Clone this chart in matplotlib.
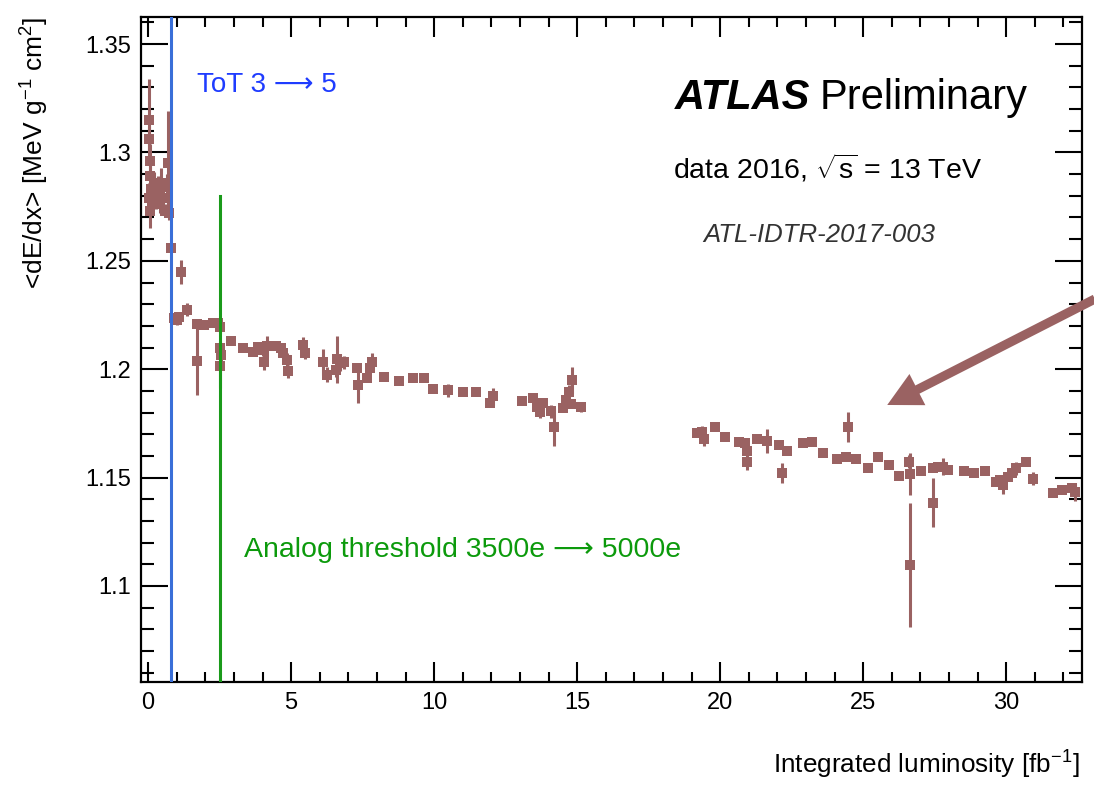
import matplotlib
matplotlib.use("Agg")
import matplotlib.pyplot as plt
from matplotlib.ticker import MultipleLocator
from matplotlib.patches import FancyArrowPatch, ArrowStyle

plt.rcParams['font.family'] = ['Liberation Sans', 'DejaVu Sans']
plt.rcParams['mathtext.fontset'] = 'custom'
plt.rcParams['mathtext.rm'] = 'Liberation Sans'
plt.rcParams['mathtext.it'] = 'Liberation Sans:italic'

# Integrated luminosity [fb^-1]
lumi = [0.02, 0.04, 0.05, 0.08, 0.10, 0.03, 0.12, 0.06, 0.15, 0.20, 0.27, 0.33, 0.40, 0.46,
        0.52, 0.58, 0.66, 0.70, 0.72,
        0.79, 0.92, 1.00, 1.08, 1.15, 1.36, 1.70, 1.72, 1.97, 2.26, 2.45, 2.50, 2.52, 2.53, 2.52,
        2.88, 3.32, 3.67, 3.85, 4.00, 4.05, 4.15, 4.48, 4.65, 4.72, 4.85, 4.90, 5.40, 5.48,
        6.10, 6.25, 6.62, 6.58, 6.72, 6.85, 7.30, 7.35, 7.65, 7.76, 7.83, 8.25, 8.78, 9.25,
        9.65, 9.97, 10.49, 11.00, 11.47, 11.96, 12.04, 13.08, 13.46, 13.60, 13.70, 13.80,
        14.10, 14.18, 14.50, 14.62, 14.72, 14.83, 14.78, 15.14,
        19.20, 19.37, 19.44, 19.83, 20.17, 20.66, 20.87, 20.94, 20.92, 21.29, 21.64, 22.06,
        22.17, 22.34, 22.90, 23.20, 23.60, 24.10, 24.40, 24.48, 24.76, 25.17, 25.52, 25.90,
        26.26, 26.60, 26.62, 26.62, 27.03, 27.45, 27.45, 27.60, 27.80, 27.97, 28.53, 28.88,
        29.27, 29.65, 29.80, 29.90, 30.07, 30.20, 30.35, 30.70, 30.94, 31.64, 31.96, 32.30,
        32.40]

# Mean dE/dx [MeV g^-1 cm^2]
dedx = [1.315, 1.306, 1.296, 1.289, 1.283, 1.279, 1.277, 1.273, 1.281, 1.285, 1.278, 1.283,
        1.276, 1.286, 1.279, 1.273, 1.284, 1.295, 1.272,
        1.256, 1.2235, 1.2225, 1.224, 1.245, 1.2275, 1.221, 1.204, 1.2205, 1.2215, 1.2215,
        1.2195, 1.210, 1.2066, 1.2015,
        1.213, 1.210, 1.208, 1.2102, 1.209, 1.2035, 1.2105, 1.2107, 1.210, 1.2075, 1.2043,
        1.199, 1.211, 1.2075, 1.2035, 1.1975, 1.2045, 1.1995, 1.203, 1.2033, 1.2006, 1.1927,
        1.196, 1.2006, 1.2035, 1.1964, 1.1946, 1.196, 1.196, 1.1909, 1.1904, 1.1895, 1.1895,
        1.1844, 1.1875, 1.1853, 1.1867, 1.1826, 1.1803, 1.1844, 1.1805, 1.1733, 1.1821,
        1.1858, 1.1895, 1.195, 1.184, 1.1826,
        1.1706, 1.171, 1.1678, 1.1733, 1.1687, 1.1664, 1.166, 1.1572, 1.1625, 1.1678, 1.1669,
        1.165, 1.1521, 1.1623, 1.166, 1.1664, 1.1613, 1.1586, 1.1595, 1.1733, 1.1586, 1.1544,
        1.1595, 1.1558, 1.1507, 1.1572, 1.1517, 1.1097, 1.153, 1.1544, 1.1383, 1.155, 1.155,
        1.1535, 1.153, 1.1521, 1.153, 1.148, 1.1489, 1.1466, 1.1503, 1.1521, 1.1544, 1.1572,
        1.1494, 1.1429, 1.1443, 1.1452, 1.1434]

# Statistical uncertainty on the mean
dedx_err = [0.019, 0.006, 0.008, 0.006, 0.005, 0.007, 0.005, 0.008, 0.004, 0.006, 0.004, 0.006,
            0.004, 0.007, 0.005, 0.003, 0.006, 0.024, 0.003,
            0.002, 0.002, 0.002, 0.002, 0.0055, 0.003, 0.002, 0.016, 0.002, 0.002, 0.002,
            0.003, 0.003, 0.004, 0.010,
            0.002, 0.002, 0.002, 0.002, 0.003, 0.004, 0.005, 0.002, 0.002, 0.002, 0.003,
            0.003, 0.004, 0.003, 0.006, 0.0035, 0.011, 0.003, 0.004, 0.003, 0.002, 0.0085,
            0.002, 0.002, 0.004, 0.002, 0.002, 0.002, 0.002, 0.002, 0.003, 0.002, 0.002,
            0.002, 0.004, 0.002, 0.002, 0.003, 0.003, 0.002, 0.003, 0.0087, 0.002,
            0.003, 0.003, 0.006, 0.002, 0.0025,
            0.002, 0.003, 0.003, 0.002, 0.002, 0.002, 0.002, 0.0035, 0.002, 0.002, 0.0055,
            0.002, 0.0048, 0.002, 0.002, 0.002, 0.002, 0.002, 0.002, 0.0068, 0.002, 0.002,
            0.002, 0.002, 0.002, 0.003, 0.0097, 0.0286, 0.002, 0.002, 0.0113, 0.002, 0.004,
            0.002, 0.002, 0.002, 0.002, 0.002, 0.002, 0.004, 0.002, 0.002, 0.003, 0.002,
            0.003, 0.002, 0.002, 0.002, 0.004]

# Detector configuration changes [fb^-1]
tot_change = 0.80
threshold_change = 2.52
threshold_line_top = 1.28

W, H = 1094, 789
fig = plt.figure(figsize=(W / 100, H / 100), dpi=100)
ax = fig.add_axes([141 / W, 1 - 682 / H, (1082 - 141) / W, (682 - 17) / H])

point_color = '#9a6262'
ax.errorbar(lumi, dedx, yerr=dedx_err, fmt='s', color=point_color, ms=6.8, mew=0,
            elinewidth=2.2, capsize=5, capthick=2.2, zorder=3)

ax.set_xlim(-0.25, 32.65)
ax.set_ylim(1.0557, 1.3625)

ax.axvline(tot_change, color='#3a6fd8', lw=2.2, zorder=4)
ax.plot([threshold_change, threshold_change], [ax.get_ylim()[0], threshold_line_top],
        color='#1a9a1a', lw=2.2, zorder=4)

ax.xaxis.set_major_locator(MultipleLocator(5))
ax.xaxis.set_minor_locator(MultipleLocator(1))
ax.yaxis.set_major_locator(MultipleLocator(0.05))
ax.yaxis.set_minor_locator(MultipleLocator(0.01))
ax.tick_params(axis='both', which='both', direction='in', top=True, right=True,
               width=1.5, labelsize=17, colors='black')
ax.tick_params(axis='x', which='major', length=14.5, pad=7)
ax.tick_params(axis='x', which='minor', length=7.2)
ax.tick_params(axis='y', which='major', length=19.5, pad=7)
ax.tick_params(axis='y', which='minor', length=9.5)
ax.set_yticks([1.1, 1.15, 1.2, 1.25, 1.3, 1.35])
ax.set_yticklabels(['1.1', '1.15', '1.2', '1.25', '1.3', '1.35'])
for s in ax.spines.values():
    s.set_linewidth(1.6)

fig.text(1080 / W, 1 - 765 / H, r'Integrated luminosity [fb$^{\mathrm{-1}}$]',
         ha='right', va='center', fontsize=18.8)
fig.text(35 / W, 1 - 17 / H, r'<dE/dx> [MeV g$^{\mathrm{-1}}$ cm$^{\mathrm{2}}$]',
         ha='center', va='top', rotation=90, fontsize=19)

arrow_txt = '\u27f6'
fig.text(197 / W, 1 - 85 / H, 'ToT 3 ' + arrow_txt + ' 5', color='#1f3cff', fontsize=20,
         ha='left', va='center')
fig.text(244 / W, 1 - 550 / H, 'Analog threshold 3500e ' + arrow_txt + ' 5000e',
         color='#0c9a0c', fontsize=20.5, ha='left', va='center')

fig.text(675 / W, 1 - 98 / H, 'ATLAS', fontsize=30, fontweight='bold', fontstyle='italic',
         ha='left', va='center')
fig.text(820 / W, 1 - 98 / H, 'Preliminary', fontsize=30, ha='left', va='center')
fig.text(673 / W, 1 - 168 / H, r'data 2016, $\sqrt{\mathrm{s}}$ = 13 TeV', fontsize=20.5,
         ha='left', va='center')
fig.text(703 / W, 1 - 235 / H, 'ATL-IDTR-2017-003', fontsize=18.5, fontstyle='italic',
         color='#333333', ha='left', va='center')

arrow = FancyArrowPatch((33.1, 1.2324), (25.84, 1.1835),
                        arrowstyle=ArrowStyle('simple', head_length=1.22, head_width=1.26,
                                              tail_width=0.33),
                        mutation_scale=20, color=point_color, lw=0, clip_on=False,
                        shrinkA=0, shrinkB=0, zorder=5)
ax.add_patch(arrow)

fig.savefig('out.png', dpi=100)
